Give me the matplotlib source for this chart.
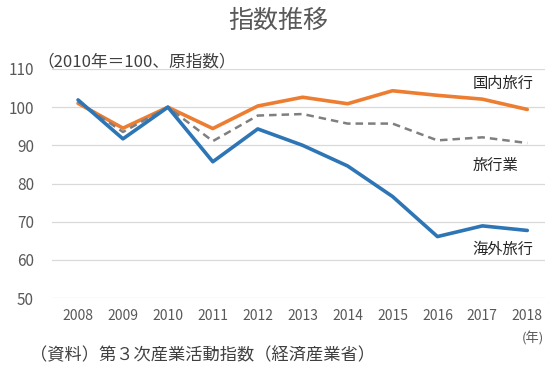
import matplotlib
matplotlib.use("Agg")
import matplotlib.pyplot as plt

plt.rcParams['font.family'] = ['Noto Sans CJK JP', 'DejaVu Sans']

years = [2008, 2009, 2010, 2011, 2012, 2013, 2014, 2015, 2016, 2017, 2018]
domestic = [101.0, 94.5, 100.0, 94.4, 100.3, 102.6, 100.9, 104.3, 103.1, 102.1, 99.4]
industry = [101.5, 93.5, 100.0, 91.1, 97.8, 98.2, 95.7, 95.7, 91.3, 92.1, 90.6]
overseas = [101.9, 91.7, 100.0, 85.7, 94.3, 90.0, 84.6, 76.6, 66.1, 68.9, 67.7]
y_ticks = [50, 60, 70, 80, 90, 100, 110]

fig = plt.figure(figsize=(5.53, 3.76), dpi=100)
ax = fig.add_axes([0.094, 0.2074, 0.892, 0.6091])

ax.plot(years, domestic, color='#ED7D31', lw=2.6, solid_capstyle='round')
ax.plot(years, industry, color='#7F7F7F', lw=1.8, ls=(0, (3, 2)))
ax.plot(years, overseas, color='#2E75B6', lw=2.6, solid_capstyle='round')

ax.set_xlim(2007.42, 2018.4)
ax.set_ylim(50, 110)
ax.set_yticks(y_ticks)
ax.set_xticks(years)
ax.set_xticklabels([str(y) for y in years])
ax.grid(axis='y', color='#D9D9D9', lw=0.9)
ax.set_axisbelow(True)
for s in ax.spines.values():
    s.set_visible(False)
ax.tick_params(length=0, colors='#595959')
ax.tick_params(axis='y', labelsize=11, pad=13)
ax.tick_params(axis='x', labelsize=10, pad=8)

# series labels
ax.text(2016.78, 106.1, '国内旅行', fontsize=11, color='#262626', va='center')
ax.text(2016.78, 84.8, '旅行業', fontsize=11, color='#262626', va='center')
ax.text(2016.78, 62.7, '海外旅行', fontsize=11, color='#262626', va='center')

fig.text(0.503, 0.944, '指数推移', ha='center', va='center', fontsize=18, color='#595959')
fig.text(0.068, 0.835, '（2010年＝100、原指数）', ha='left', va='center', fontsize=12, color='#404040')
fig.text(0.964, 0.101, '(年)', ha='center', va='center', fontsize=9.5, color='#595959')
fig.text(0.055, 0.056, '（資料）第３次産業活動指数（経済産業省）', ha='left', va='center',
         fontsize=12.4, color='#404040')

fig.savefig('out.png', dpi=100)
